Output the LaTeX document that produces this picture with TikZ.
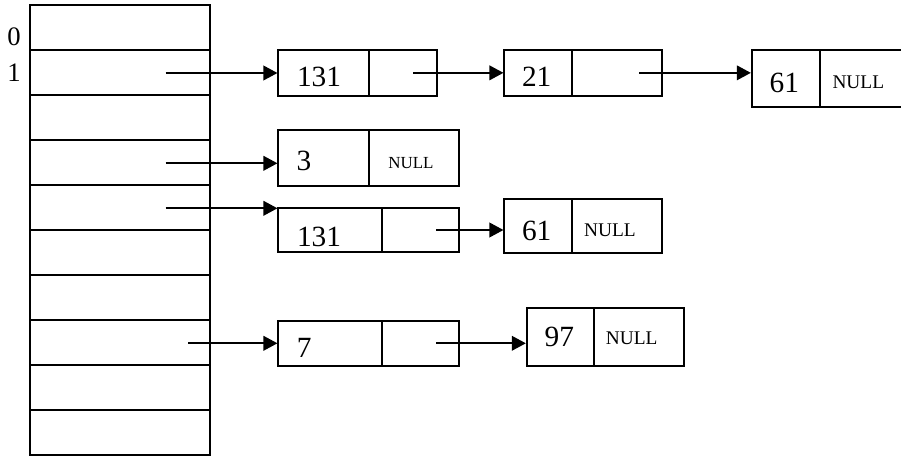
\documentclass[tikz,border=0pt]{standalone}
\usepackage{fontspec}
\setmainfont{Liberation Serif}
\usetikzlibrary{arrows.meta}
\begin{document}
\begin{tikzpicture}[x=0.75pt,y=-0.75pt,
  rowbox/.style={draw,line width=1.5pt,inner sep=0pt,minimum width=135pt,minimum height=33.77pt},
  cell/.style 2 args={draw,line width=1.3pt,inner sep=0pt,minimum width=#1*0.75pt,minimum height=#2*0.75pt},
  num/.style={inner sep=0pt,font=\fontsize{22}{22}\selectfont},
  nulltxt/.style={inner sep=0pt,font=\fontsize{14.5}{14.5}\selectfont},
  idx/.style={inner sep=0pt,font=\fontsize{20}{20}\selectfont},
  ptr/.style={line width=1.2pt,-{Triangle[length=10.5pt,width=11pt]}}]
\useasboundingbox (0,0) rectangle (901,456);
% table
\foreach \i in {0,...,9}
  \node[rowbox] (r\i) at (120,{4.7+45.03*(\i+0.5)}) {};
\node[idx] (t0) at (14,37) {0};
\node[idx] (t1) at (14,73) {1};
% list of row 1
\node[cell={90.7}{45.7}] (a1v) at (323.65,72.85) {};
\node[cell={67.7}{45.7}] (a1p) at (402.85,72.85) {};
\node[cell={67.4}{45.7}] (a2v) at (538,72.85) {};
\node[cell={90}{45.7}] (a2p) at (616.7,72.85) {};
\node[cell={68.3}{56.7}] (a3v) at (785.85,78.35) {};
\node[cell={85}{56.7}] (a3p) at (862.5,78.35) {};
\node[num] (ta1) at (319,76.7) {131};
\node[num] (ta2) at (536.7,76.7) {21};
\node[num] (ta3) at (784.3,82.7) {61};
\node[nulltxt] (na3) at (858.3,82.7) {NULL};
% list of row 3
\node[cell={90.7}{55.7}] (b1v) at (323.65,157.85) {};
\node[cell={90.3}{55.7}] (b1p) at (414.15,157.85) {};
\node[num] (tb1) at (304,160.7) {3};
\node[nulltxt,font=\fontsize{12.7}{12.7}\selectfont] (nb1) at (411,162.7) {NULL};
% list of row 4
\node[cell={103.7}{44}] (c1v) at (330.15,230.3) {};
\node[cell={77.3}{44}] (c1p) at (420.65,230.3) {};
\node[cell={67.4}{54}] (c2v) at (538,226.3) {};
\node[cell={90}{54}] (c2p) at (616.7,226.3) {};
\node[num] (tc1) at (319,236.7) {131};
\node[num] (tc2) at (536.7,230.7) {61};
\node[nulltxt] (nc2) at (610,230) {NULL};
% list of row 7
\node[cell={103.7}{45}] (d1v) at (330.15,343.5) {};
\node[cell={77.3}{45}] (d1p) at (420.65,343.5) {};
\node[cell={67.3}{58}] (d2v) at (560.35,336.7) {};
\node[cell={90.3}{58}] (d2p) at (639.15,336.7) {};
\node[num] (td1) at (304.3,348.3) {7};
\node[num] (td2) at (559.3,336.7) {97};
\node[nulltxt] (nd2) at (631.7,338) {NULL};
% start points
\coordinate (s1) at (165.7,73);
\coordinate (s3) at (165.7,163.3);
\coordinate (s4) at (165.7,208.3);
\coordinate (s7) at (188,343.3);
\coordinate (pa1) at (413.3,72.85);
\coordinate (pa2) at (639,72.85);
\coordinate (pc1) at (436,230);
\coordinate (pd1) at (436,343.3);
% arrows
\draw[ptr] (s1) -- (s1 -| a1v.west);
\draw[ptr] (s3) -- (s3 -| b1v.west);
\draw[ptr] (s4) -- (s4 -| c1v.west);
\draw[ptr] (s7) -- (s7 -| d1v.west);
\draw[ptr] (pa1) -- (pa1 -| a2v.west);
\draw[ptr] (pa2) -- (pa2 -| a3v.west);
\draw[ptr] (pc1) -- (pc1 -| c2v.west);
\draw[ptr] (pd1) -- (pd1 -| d2v.west);
\end{tikzpicture}
\end{document}
